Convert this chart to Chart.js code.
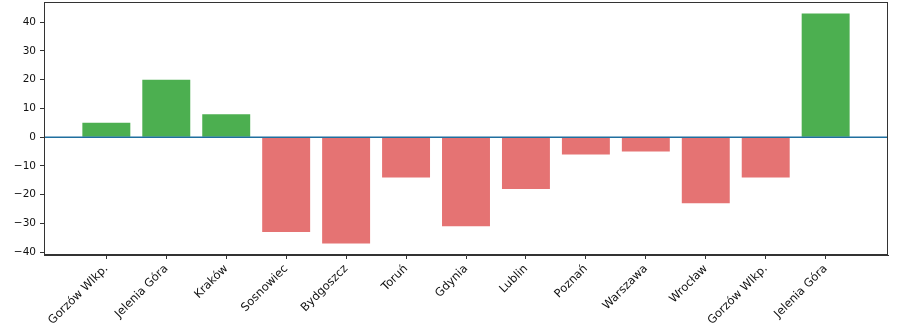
<!DOCTYPE html>
<html>
<head>
<meta charset="utf-8">
<script src="https://cdn.jsdelivr.net/npm/chart.js@4.4.1/dist/chart.umd.min.js"></script>
<style>
  html, body { margin: 0; padding: 0; background: #fff; }
  #wrap { width: 900px; height: 331px; }
</style>
</head>
<body>
<div id="wrap"><canvas id="chart" width="900" height="331"></canvas></div>
<script>
const cities = ['Gorzów Wlkp.', 'Jelenia Góra', 'Kraków', 'Sosnowiec', 'Bydgoszcz', 'Toruń', 'Gdynia',
    'Lublin', 'Poznań', 'Warszawa', 'Wrocław', 'Gorzów Wlkp.', 'Jelenia Góra'];
const values = [5, 20, 8, -33, -37, -14, -31, -18, -6, -5, -23, -14, 43];
const yTicks = [-40, -30, -20, -10, 0, 10, 20, 30, 40];

const GREEN = '#4caf50';
const RED = '#e57373';
const AXIS = '#333333';

// frame round the plot + zero line
const framePlugin = {
    id: 'frame',
    afterDatasetsDraw(chart) {
        const { ctx, chartArea: a, scales } = chart;
        const y0 = scales.y.getPixelForValue(0);
        ctx.save();
        ctx.strokeStyle = '#1f6f9f';
        ctx.lineWidth = 1.5;
        ctx.beginPath();
        ctx.moveTo(a.left, y0);
        ctx.lineTo(a.right, y0);
        ctx.stroke();
        ctx.strokeStyle = AXIS;
        ctx.lineWidth = 1;
        ctx.strokeRect(a.left + 0.5, a.top + 0.5, a.right - a.left - 1, a.bottom - a.top - 1);
        ctx.restore();
    }
};

new Chart(document.getElementById('chart'), {
    type: 'bar',
    data: {
        datasets: [{
            data: values.map((v, i) => ({ x: i, y: v })),
            backgroundColor: values.map(v => v >= 0 ? GREEN : RED),
            barPercentage: 0.8,
            categoryPercentage: 1
        }]
    },
    options: {
        responsive: false,
        animation: false,
        layout: { padding: { top: 2, right: 12, left: 0, bottom: 0 } },
        plugins: { legend: { display: false }, tooltip: { enabled: false } },
        scales: {
            x: {
                type: 'linear',
                offset: false,
                min: -1.04,
                max: 13.04,
                afterBuildTicks: s => { s.ticks = cities.map((c, i) => ({ value: i })); },
                afterFit: s => { s.height = 76; s.paddingLeft = 0; s.paddingRight = 0; },
                ticks: {
                    autoSkip: false,
                    maxRotation: 45,
                    minRotation: 45,
                    color: '#111',
                    font: { family: 'DejaVu Sans', size: 11.5 },
                    padding: 3,
                    callback: v => cities[v]
                },
                grid: { offset: false, drawOnChartArea: false, tickLength: 4, color: AXIS },
                border: { display: true, color: AXIS }
            },
            y: {
                min: -41,
                max: 47,
                afterBuildTicks: s => { s.ticks = yTicks.map(v => ({ value: v })); },
                afterFit: s => { s.width = 44; s.paddingTop = 0; s.paddingBottom = 0; },
                ticks: {
                    color: '#111',
                    font: { family: 'DejaVu Sans', size: 10.5 },
                    padding: 4,
                    callback: v => String(v).replace('-', '\u2212')
                },
                grid: { drawOnChartArea: false, tickLength: 4, color: AXIS },
                border: { display: true, color: AXIS }
            }
        }
    },
    plugins: [framePlugin]
});
</script>
</body>
</html>
